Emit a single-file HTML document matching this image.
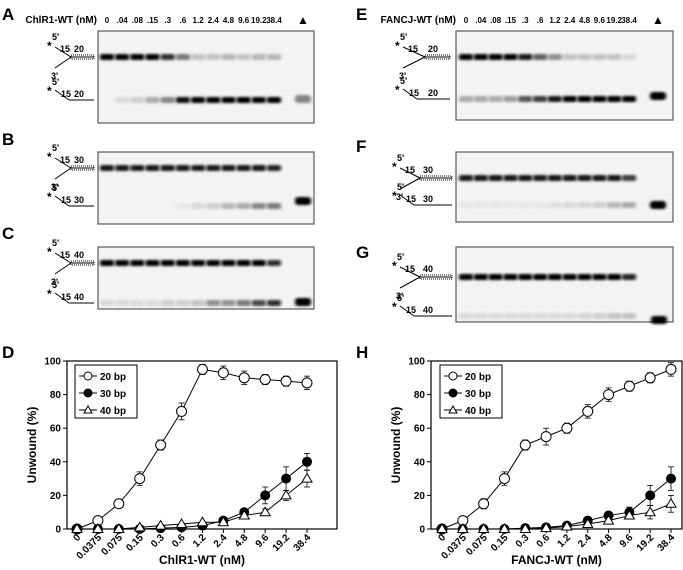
<!DOCTYPE html>
<html><head><meta charset="utf-8"><style>
html,body{margin:0;padding:0;background:#fff;}
svg{display:block;font-family:"Liberation Sans",Arial,sans-serif;font-weight:bold;}
</style></head><body>
<svg id="fig" width="683" height="570" viewBox="0 0 683 570">
<defs><filter id="blur" x="-30%" y="-150%" width="160%" height="400%"><feGaussianBlur stdDeviation="1.5 1.3"/></filter></defs>
<g id="gels"></g>
<g id="charts"></g>
</svg>
<script>
const NS="http://www.w3.org/2000/svg";
function mk(parent,tag,attrs,text){const e=document.createElementNS(NS,tag);for(const k in attrs)e.setAttribute(k,attrs[k]);if(text!==undefined)e.textContent=text;parent.appendChild(e);return e;}

// ---------- chart data ----------
const categories=["0","0.0375","0.075","0.15","0.3","0.6","1.2","2.4","4.8","9.6","19.2","38.4"];
const yTicks=[0,20,40,60,80,100];
const chirr20=[0,5,15,30,50,70,95,93,90,89,88,87];
const chirr30=[0,0,0,0,0.5,1,2,5,10,20,30,40];
const chirr40=[0,0,0,1,2,3,4,4,8,10,20,30];
const chirrErr20=[0,1.5,2.5,4,3,5,3,4,4,3,3,4];
const chirrErr30=[0,0,0,0,0,0,0,1,1,5,7,5];
const chirrErr40=[0,0,0,0,0,0,0,0,1,2,3,5];
const fancj20=[0,5,15,30,50,55,60,70,80,85,90,95];
const fancj30=[0,0,0,0,0.5,1,2,5,8,10,20,30];
const fancj40=[0,0,0,0,0,0.5,1.5,3,5,8,10,15];
const fancjErr20=[0,1.5,3,4,3,5,3,4,4,3,3,4];
const fancjErr30=[0,0,0,0,0,0,0,1,1,3,6,7];
const fancjErr40=[0,0,0,0,0,0,0,1,1,2,4,5];
const gelLanes=["0",".04",".08",".15",".3",".6","1.2","2.4","4.8","9.6","19.2","38.4"];

// ---------- gel band intensities ----------
const gelAUpper=[1,1,1,1,.8,.5,.2,.2,.25,.2,.25,.25];
const gelALower=[0,.1,.15,.3,.45,.95,1,1,1,1,1,1];
const gelBUpper=[.9,.9,.9,.9,.9,.9,.9,.9,.9,.9,.9,.85];
const gelBLower=[0,0,0,0,0,.05,.1,.15,.25,.3,.45,.5];
const gelCUpper=[1,1,1,1,1,1,1,1,1,1,1,.8];
const gelCLower=[.1,.1,.1,.1,.15,.15,.2,.4,.4,.5,.7,.8];
const gelEUpper=[1,1,1,1,.9,.6,.4,.2,.2,.2,.2,.1];
const gelELower=[.3,.3,.3,.35,.65,.75,.9,1,1,1,1,1];
const gelFUpper=[.9,.9,.9,.9,.9,.9,.9,.9,.9,.9,.9,.75];
const gelFLower=[.05,.05,.05,.05,.05,.05,.08,.1,.12,.15,.25,.3];
const gelGUpper=[1,1,1,1,1,1,1,1,1,1,1,.85];
const gelGLower=[.1,.1,.1,.1,.1,.1,.1,.1,.12,.15,.2,.2];

const gelsG=document.getElementById('gels');
function gel(cfg){
  const g=mk(gelsG,'g',{});
  
  
  const r=mk(g,'rect',{x:cfg.x,y:cfg.y,width:cfg.w,height:cfg.h,fill:'#f3f3f3',stroke:'#666','stroke-width':1.3});
  
  
  const step=(cfg.last-cfg.first)/11;
  cfg.upper.forEach((v,i)=>{
    const b=mk(g,'rect',{x:cfg.first+i*step-7,y:cfg.uy-3,width:14,height:6,rx:2,fill:'#000','fill-opacity':v,filter:'url(#blur)'});
    
    
  });
  cfg.lower.forEach((v,i)=>{
    const b=mk(g,'rect',{x:cfg.first+i*step-7,y:cfg.ly-3,width:14,height:6,rx:2,fill:'#000','fill-opacity':v,filter:'url(#blur)'});
    
    
  });
  const m=mk(g,'rect',{x:cfg.mx-8,y:cfg.my-4,width:16,height:8,rx:3,fill:'#000','fill-opacity':cfg.mo,filter:'url(#blur)'});
  
  
  const L=mk(g,'text',{x:cfg.lx,y:cfg.ly0,'font-size':17},cfg.id);
  
  
  // substrate diagrams
  const d=cfg.dx, f=cfg.dx+cfg.fl, e=cfg.dend, n=cfg.bp;
  const dg=mk(g,'g',{});
  
  
  const s=mk(dg,'g',{stroke:'#000','stroke-width':1,fill:'none'});
  const uy=cfg.uy;
  mk(s,'line',{x1:d,y1:uy-10,x2:f,y2:uy});
  mk(s,'line',{x1:d,y1:uy+11,x2:f,y2:uy});
  mk(s,'rect',{x:f,y:uy-2,width:e-f,height:4,'stroke-dasharray':'1 1'});
  mk(s,'line',{x1:f,y1:uy,x2:e,y2:uy});
  const py=cfg.ly;
  mk(s,'line',{x1:d,y1:py-10,x2:d+14,y2:py});
  mk(s,'line',{x1:d+14,y1:py,x2:e,y2:py});
  const t=mk(dg,'g',{'font-size':9});
  mk(t,'text',{x:d-3,y:uy-17},"5'");
  mk(t,'text',{x:d-8,y:uy-7,'font-size':12},"*");
  mk(t,'text',{x:d+5,y:uy-5},"15");
  mk(t,'text',{x:f+3,y:uy-5},String(n));
  mk(t,'text',{x:d-4,y:uy+22},"3'");
  mk(t,'text',{x:d-3,y:py-15},"5'");
  mk(t,'text',{x:d-8,y:py-5,'font-size':12},"*");
  mk(t,'text',{x:d+6,y:py-3},"15");
  mk(t,'text',{x:f+3,y:py-3},String(n));
  if(cfg.header){
    const h=mk(g,'g',{'font-size':8});
    
    
    mk(h,'text',{x:cfg.first-10,y:cfg.y-8,'text-anchor':'end','font-size':10},cfg.header);
    gelLanes.forEach((lab,i)=>mk(h,'text',{x:cfg.first+i*step,y:cfg.y-8,'text-anchor':'middle'},lab));
    mk(h,'text',{x:cfg.mx,y:cfg.y-7,'text-anchor':'middle','font-size':12},'▲');
  }
}
gel({id:'A',x:98,y:31,w:216,h:92,first:107,last:274,mx:303,uy:57,ly:100,my:99,mo:.45,upper:gelAUpper,lower:gelALower,lx:2,ly0:20,dx:55,fl:16,dend:94,bp:20,header:'ChlR1-WT (nM)'});
gel({id:'B',x:98,y:152,w:216,h:72,first:107,last:274,mx:303,uy:168,ly:206,my:201,mo:1,upper:gelBUpper,lower:gelBLower,lx:2,ly0:145,dx:55,fl:16,dend:94,bp:30});
gel({id:'C',x:98,y:247,w:216,h:62,first:107,last:274,mx:303,uy:263,ly:303,my:302,mo:1,upper:gelCUpper,lower:gelCLower,lx:2,ly0:239,dx:55,fl:16,dend:94,bp:40});
gel({id:'E',x:456,y:31,w:217,h:89,first:466,last:629,mx:658,uy:57,ly:99,my:96,mo:1,upper:gelEUpper,lower:gelELower,lx:356,ly0:20,dx:403,fl:22,dend:450,bp:20,header:'FANCJ-WT (nM)'});
gel({id:'F',x:456,y:152,w:217,h:70,first:466,last:629,mx:658,uy:178,ly:205,my:205,mo:1,upper:gelFUpper,lower:gelFLower,lx:356,ly0:152,dx:400,fl:20,dend:452,bp:30});
gel({id:'G',x:456,y:247,w:217,h:75,first:466,last:629,mx:659,uy:277,ly:316,my:320,mo:1,upper:gelGUpper,lower:gelGLower,lx:356,ly0:258,dx:400,fl:20,dend:452,bp:40});

// ---------- line charts ----------
const chartsG=document.getElementById('charts');
function chart(cfg){
  const g=mk(chartsG,'g',{});
  
  
  const X=i=>cfg.first+i*(cfg.last-cfg.first)/(categories.length-1);
  const Y=v=>cfg.y0+(cfg.y1-cfg.y0)*v/100;
  const L=mk(g,'text',{x:cfg.lx,y:358,'font-size':17},cfg.id);
  
  
  const box=mk(g,'rect',{x:cfg.left,y:cfg.y1,width:cfg.right-cfg.left,height:cfg.y0-cfg.y1,fill:'none',stroke:'#000','stroke-width':1.2});
  
  
  yTicks.forEach(t=>{
    mk(g,'line',{x1:cfg.left-4,x2:cfg.left,y1:Y(t),y2:Y(t),stroke:'#000'});
    const tl=mk(g,'text',{x:cfg.left-6,y:Y(t)+3.5,'text-anchor':'end','font-size':10},String(t));
    
    
  });
  categories.forEach((c,i)=>{
    mk(g,'line',{x1:X(i),x2:X(i),y1:cfg.y0,y2:cfg.y0+4,stroke:'#000'});
    const tl=mk(g,'text',{x:X(i)+4,y:cfg.y0+9,'text-anchor':'end','font-size':10,transform:`rotate(-45 ${X(i)+4} ${cfg.y0+9})`},c);
    
    
  });
  const yt=mk(g,'text',{x:0,y:0,'text-anchor':'middle','font-size':12,transform:`translate(${cfg.left-31} ${(cfg.y0+cfg.y1)/2}) rotate(-90)`},'Unwound (%)');
  
  
  const xt=mk(g,'text',{x:(cfg.left+cfg.right)/2,y:564,'text-anchor':'middle','font-size':12},cfg.xtitle);
  
  
  cfg.series.forEach(s=>{
    const sg=mk(g,'g',{});
    
    
    mk(sg,'polyline',{points:s.vals.map((v,i)=>X(i)+','+Y(v)).join(' '),fill:'none',stroke:'#000','stroke-width':1});
    s.vals.forEach((v,i)=>{
      const e=s.err[i];
      if(e>0){mk(sg,'line',{x1:X(i),x2:X(i),y1:Y(v-e),y2:Y(v+e),stroke:'#000','stroke-width':.8});
        [v-e,v+e].forEach(w=>mk(sg,'line',{x1:X(i)-3,x2:X(i)+3,y1:Y(w),y2:Y(w),stroke:'#000','stroke-width':.8}));}
      let p;
      if(s.shape==='tri') p=mk(sg,'path',{d:`M${X(i)} ${Y(v)-5}L${X(i)+5} ${Y(v)+3.5}L${X(i)-5} ${Y(v)+3.5}Z`,fill:'#fff',stroke:'#000'});
      else p=mk(sg,'circle',{cx:X(i),cy:Y(v),r:s.shape==='filled'?4.5:5,fill:s.shape==='filled'?'#000':'#fff',stroke:'#000'});
      
      
    });
  });
  const lg=mk(g,'g',{});
  
  
  mk(lg,'rect',{x:cfg.legx,y:365,width:62,height:53,fill:'#fff',stroke:'#000'});
  cfg.series.forEach((s,k)=>{
    const yy=376+k*17, cx=cfg.legx+13;
    const en=mk(lg,'g',{});
    
    
    mk(en,'line',{x1:cx-9,x2:cx+9,y1:yy,y2:yy,stroke:'#000'});
    if(s.shape==='tri') mk(en,'path',{d:`M${cx} ${yy-4}L${cx+4} ${yy+3}L${cx-4} ${yy+3}Z`,fill:'#fff',stroke:'#000'});
    else mk(en,'circle',{cx:cx,cy:yy,r:4,fill:s.shape==='filled'?'#000':'#fff',stroke:'#000'});
    mk(en,'text',{x:cx+12,y:yy+4,'font-size':10},s.name);
  });
}
chart({id:'D',lx:2,left:67,right:337,y0:529,y1:361,first:77,last:307,xtitle:'ChlR1-WT (nM)',legx:75,
  series:[{name:'20 bp',vals:chirr20,err:chirrErr20,shape:'open'},{name:'30 bp',vals:chirr30,err:chirrErr30,shape:'filled'},{name:'40 bp',vals:chirr40,err:chirrErr40,shape:'tri'}]});
chart({id:'H',lx:356,left:431,right:682,y0:529,y1:361,first:442,last:671,xtitle:'FANCJ-WT (nM)',legx:440,
  series:[{name:'20 bp',vals:fancj20,err:fancjErr20,shape:'open'},{name:'30 bp',vals:fancj30,err:fancjErr30,shape:'filled'},{name:'40 bp',vals:fancj40,err:fancjErr40,shape:'tri'}]});
</script>
</body></html>
